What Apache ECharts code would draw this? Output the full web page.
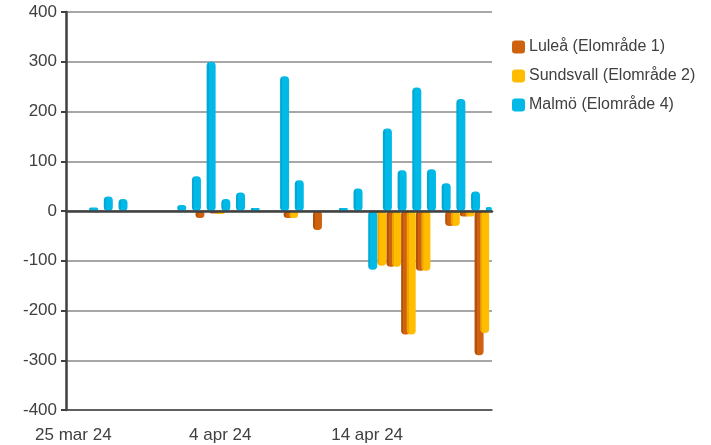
<!DOCTYPE html>
<html>
<head>
<meta charset="utf-8">
<script src="https://cdn.jsdelivr.net/npm/echarts@6/dist/echarts.min.js"></script>
<style>
  html, body { margin: 0; padding: 0; background: #ffffff; }
  #chart { width: 711px; height: 445px; }
</style>
</head>
<body>
<div id="chart"></div>
<script>
// Daily categories, 25 mar 24 – 22 apr 24
const categories = [
  '25 mar 24', '26 mar 24', '27 mar 24', '28 mar 24', '29 mar 24', '30 mar 24', '31 mar 24',
  '1 apr 24', '2 apr 24', '3 apr 24', '4 apr 24', '5 apr 24', '6 apr 24', '7 apr 24',
  '8 apr 24', '9 apr 24', '10 apr 24', '11 apr 24', '12 apr 24', '13 apr 24', '14 apr 24',
  '15 apr 24', '16 apr 24', '17 apr 24', '18 apr 24', '19 apr 24', '20 apr 24', '21 apr 24',
  '22 apr 24'
];

// Series values per day (null = no value that day)
const lulea = [
  null, null, null, null, null, null, null,
  null, null, -14, -5, null, null, null,
  null, -14, null, -38, null, null, null,
  -4, -112, -248, -120, null, -30, -11,
  -290
];
const sundsvall = [
  null, null, null, null, null, null, null,
  null, null, null, -6, null, null, null,
  null, -14, null, null, null, null, null,
  -110, -112, -248, -120, null, -30, -11,
  -245
];
const malmo = [
  null, 7, 29, 24, null, null, null,
  12, 70, 300, 24, 37, 6, null,
  271, 62, null, null, 6, 45, -118,
  166, 82, 248, 84, 56, 225, 39,
  8
];

const seriesNames = ['Luleå (Elområde 1)', 'Sundsvall (Elområde 2)', 'Malmö (Elområde 4)'];
const yTicks = { min: -400, max: 400, interval: 100 };

const palette = [
  { main: '#CF620E', edge: '#B25209' },
  { main: '#FFBC00', edge: '#F0A400' },
  { main: '#00B9E6', edge: '#00A8D4' }
];

function shaded(c) {
  return new echarts.graphic.LinearGradient(0, 0, 1, 0, [
    { offset: 0, color: c.edge },
    { offset: 0.22, color: c.edge },
    { offset: 0.25, color: c.main },
    { offset: 1, color: c.main }
  ]);
}

const textColor = '#404040';
const labelFont = 'Liberation Sans';

const chart = echarts.init(document.getElementById('chart'), null, { renderer: 'canvas' });

const seriesData = [lulea, sundsvall, malmo];

chart.setOption({
  animation: false,
  backgroundColor: '#ffffff',
  grid: { left: 66, right: 219, top: 12, bottom: 35, containLabel: false },
  legend: {
    orient: 'vertical',
    left: 507,
    top: 34,
    itemWidth: 13,
    itemHeight: 13,
    itemGap: 13,
    icon: 'roundRect',
    textStyle: { fontFamily: labelFont, fontSize: 16, color: textColor, padding: [0, 0, 0, -1] },
    data: seriesNames.map((n, i) => ({ name: n, itemStyle: { color: palette[i].main } }))
  },
  xAxis: [
    {
      type: 'category',
      data: categories,
      boundaryGap: true,
      axisLine: { onZero: false, lineStyle: { color: '#4a4a4a', width: 1.5 } },
      axisTick: { show: false },
      axisLabel: {
        interval: 9,
        margin: 17,
        fontFamily: labelFont,
        fontSize: 17,
        color: textColor
      },
      splitLine: { show: false }
    },
    {
      // zero line across the plot
      type: 'category',
      data: categories,
      position: 'bottom',
      axisLine: { onZero: true, lineStyle: { color: '#404040', width: 2.5 } },
      axisTick: { show: false },
      axisLabel: { show: false },
      splitLine: { show: false },
      z: 5
    }
  ],
  yAxis: {
    type: 'value',
    min: yTicks.min,
    max: yTicks.max,
    interval: yTicks.interval,
    axisLine: { show: true, lineStyle: { color: '#404040', width: 2.5 } },
    axisTick: { show: true, length: 5, lineStyle: { color: '#404040', width: 2 } },
    axisLabel: { margin: 9, fontFamily: labelFont, fontSize: 17, color: textColor },
    splitLine: { show: true, lineStyle: { color: '#8a8a8a', width: 1.5 } }
  },
  series: seriesData.map((d, i) => ({
    name: seriesNames[i],
    type: 'bar',
    xAxisIndex: 0,
    data: d,
    barWidth: 9,
    barGap: '-38%',
    itemStyle: {
      color: shaded(palette[i]),
      borderRadius: 4
    },
    emphasis: { disabled: true },
    z: 2 + i
  }))
});
</script>
</body>
</html>
